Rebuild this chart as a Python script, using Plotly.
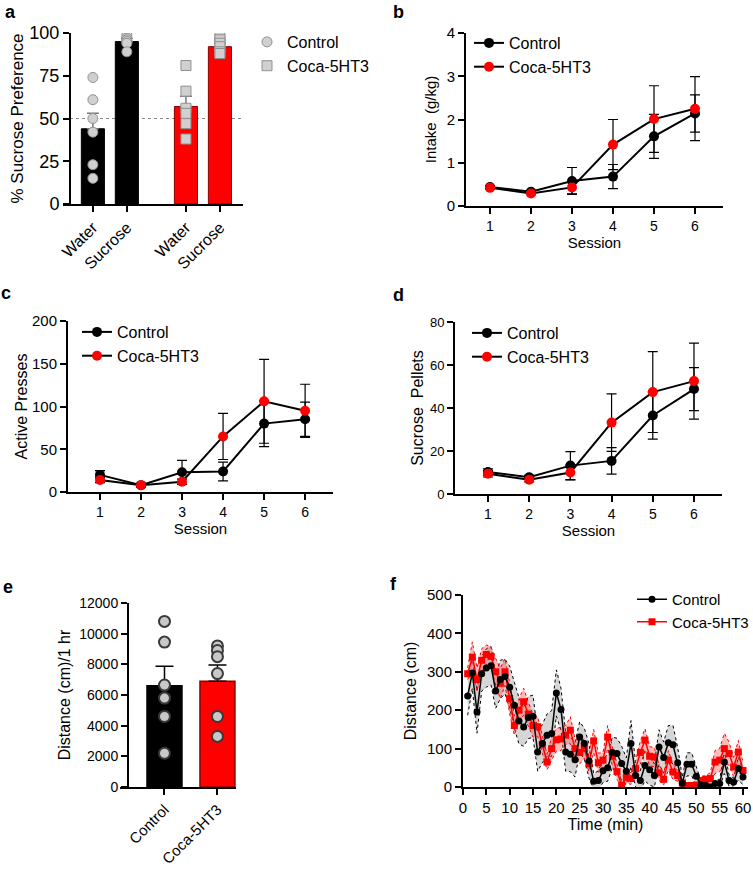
import plotly.graph_objects as go

W, H = 753, 869
FONT = "Arial, Liberation Sans, sans-serif"


def fx(p):
    return p / W


def fy(p):
    return 1 - p / H


# ---------------- data ----------------
# panel a : sucrose preference
pref_labels = ["Water", "Sucrose", "Water", "Sucrose"]
pref_ctrl_mean = [44, 95]
pref_ctrl_sem = [9, 2]
pref_coca_mean = [57, 92]
pref_coca_sem = [6, 2]
pref_ctrl_water_pts = [74, 61, 50, 42, 23, 15]
pref_ctrl_sucrose_pts = [99, 97, 96, 95, 94, 89]
pref_coca_water_pts = [81, 66, 56, 53, 47, 38]
pref_coca_sucrose_pts = [98, 96, 94, 92, 89, 88]

# panels b-d : sessions
sessions = [1, 2, 3, 4, 5, 6]
intake_ctrl = [0.44, 0.33, 0.58, 0.68, 1.61, 2.14]
intake_ctrl_sem = [0.03, 0.03, 0.31, 0.28, 0.51, 0.43]
intake_coca = [0.42, 0.29, 0.43, 1.42, 2.01, 2.25]
intake_coca_sem = [0.03, 0.03, 0.15, 0.58, 0.77, 0.74]

presses_ctrl = [20, 8, 23, 24, 80, 85]
presses_ctrl_sem = [5, 2, 14, 11, 27, 20]
presses_coca = [14, 8, 12, 65, 106, 95]
presses_coca_sem = [3, 2, 3, 27, 49, 31]

pellets_ctrl = [10.2, 7.8, 13.2, 15.4, 36.5, 48.8]
pellets_ctrl_sem = [1.5, 1.0, 6.5, 6.2, 11.0, 10.0]
pellets_coca = [9.4, 6.6, 10.0, 33.2, 47.4, 52.5]
pellets_coca_sem = [1.5, 1.0, 3.4, 13.4, 18.8, 17.7]

# panel e : locomotion
loco_groups = ["Control", "Coca-5HT3"]
loco_mean = [6600, 6900]
loco_sem = [1270, 1050]
loco_ctrl_pts = [10800, 9450, 6650, 5800, 4600, 2200]
loco_coca_pts = [9200, 8900, 8500, 7400, 4600, 3300]

# panel f : time course
minutes = list(range(1, 61))
dist_ctrl = [237, 297, 195, 295, 310, 316, 250, 280, 288, 260,
             213, 172, 156, 181, 184, 91, 113, 135, 139, 245,
             202, 91, 85, 71, 130, 113, 68, 15, 17, 42,
             50, 90, 87, 61, 41, 113, 30, 17, 56, 45,
             30, 104, 77, 115, 110, 63, 10, 59, 59, 28,
             6, 4, 0, 9, 9, 65, 17, 13, 48, 26]
dist_ctrl_sem = [50, 40, 55, 45, 50, 50, 45, 50, 45, 55,
                 60, 60, 50, 55, 55, 50, 50, 55, 60, 60,
                 55, 50, 45, 45, 40, 40, 45, 20, 25, 30,
                 35, 40, 40, 45, 35, 60, 30, 25, 40, 40,
                 30, 45, 40, 45, 50, 40, 15, 30, 30, 25,
                 10, 8, 5, 10, 10, 30, 15, 10, 30, 20]
dist_coca = [295, 338, 280, 330, 345, 340, 300, 270, 300, 230,
             160, 200, 222, 190, 160, 157, 110, 65, 100, 123,
             125, 135, 148, 100, 90, 100, 60, 120, 63, 70,
             130, 80, 40, 5, 25, 22, 48, 90, 122, 80,
             78, 37, 20, 70, 39, 30, 10, 4, 4, 5,
             17, 20, 22, 65, 70, 100, 87, 52, 91, 43]
dist_coca_sem = [15, 40, 30, 30, 25, 25, 35, 40, 35, 40,
                 25, 30, 35, 30, 30, 25, 25, 20, 30, 30,
                 30, 25, 35, 25, 30, 25, 20, 30, 25, 20,
                 30, 25, 20, 5, 15, 15, 20, 30, 30, 25,
                 25, 20, 15, 25, 20, 15, 5, 5, 5, 5,
                 10, 10, 15, 30, 30, 40, 30, 25, 30, 20]

# ---------------- figure ----------------
fig = go.Figure()

RED = "#ff0000"
GREYPT = "#d0d0d0"

# ---- panel a ----
pos_a = [0, 1, 2.74, 3.74]
fig.add_bar(x=pos_a[:2], y=pref_ctrl_mean, width=0.68,
            marker=dict(color="black", line=dict(color="black", width=1)),
            error_y=dict(type="data", symmetric=False, array=pref_ctrl_sem,
                         arrayminus=[0, 0], color="#777", thickness=1.5, width=6),
            xaxis="x", yaxis="y", showlegend=False)
fig.add_bar(x=pos_a[2:], y=pref_coca_mean, width=0.68,
            marker=dict(color=RED, line=dict(color="#8b0000", width=1)),
            error_y=dict(type="data", symmetric=False, array=pref_coca_sem,
                         arrayminus=[0, 0], color="#777", thickness=1.5, width=6),
            xaxis="x", yaxis="y", showlegend=False)
fig.add_scatter(x=[pos_a[0]] * len(pref_ctrl_water_pts) + [pos_a[1]] * len(pref_ctrl_sucrose_pts),
                y=pref_ctrl_water_pts + pref_ctrl_sucrose_pts, mode="markers",
                marker=dict(symbol="circle", size=10, color=GREYPT, line=dict(color="#909090", width=1)),
                name="Control", xaxis="x", yaxis="y", legend="legend")
fig.add_scatter(x=[pos_a[2]] * len(pref_coca_water_pts) + [pos_a[3]] * len(pref_coca_sucrose_pts),
                y=pref_coca_water_pts + pref_coca_sucrose_pts, mode="markers",
                marker=dict(symbol="square", size=10, color=GREYPT, line=dict(color="#909090", width=1)),
                name="Coca-5HT3", xaxis="x", yaxis="y", legend="legend")


def session_pair(xa, ya, leg, yc, yc_err, yk, yk_err, msize=10):
    fig.add_scatter(x=sessions, y=yc, mode="lines+markers", name="Control",
                    line=dict(color="black", width=2),
                    marker=dict(color="black", size=msize),
                    error_y=dict(type="data", array=yc_err, color="black", thickness=1.2, width=5),
                    xaxis=xa, yaxis=ya, legend=leg)
    fig.add_scatter(x=sessions, y=yk, mode="lines+markers", name="Coca-5HT3",
                    line=dict(color="black", width=2),
                    marker=dict(color=RED, size=msize),
                    error_y=dict(type="data", array=yk_err, color="black", thickness=1.2, width=5),
                    xaxis=xa, yaxis=ya, legend=leg)


session_pair("x2", "y2", "legend2", intake_ctrl, intake_ctrl_sem, intake_coca, intake_coca_sem)
session_pair("x3", "y3", "legend3", presses_ctrl, presses_ctrl_sem, presses_coca, presses_coca_sem)
session_pair("x4", "y4", "legend4", pellets_ctrl, pellets_ctrl_sem, pellets_coca, pellets_coca_sem)

# ---- panel e ----
fig.add_bar(x=[0, 1], y=loco_mean, width=0.66,
            marker=dict(color=["black", RED], line=dict(color=["black", "#8b0000"], width=1.5)),
            error_y=dict(type="data", symmetric=False, array=loco_sem, arrayminus=[0, 0],
                         color="black", thickness=1.5, width=9),
            xaxis="x5", yaxis="y5", showlegend=False)
fig.add_scatter(x=[0] * len(loco_ctrl_pts) + [1] * len(loco_coca_pts),
                y=loco_ctrl_pts + loco_coca_pts, mode="markers",
                marker=dict(size=11, color="#c8c8c8", line=dict(color="#3a3a3a", width=2)),
                xaxis="x5", yaxis="y5", showlegend=False)

# ---- panel f ----
ctrl_hi = [m + s for m, s in zip(dist_ctrl, dist_ctrl_sem)]
ctrl_lo = [m - s for m, s in zip(dist_ctrl, dist_ctrl_sem)]
coca_hi = [m + s for m, s in zip(dist_coca, dist_coca_sem)]
coca_lo = [max(m - s, 0) for m, s in zip(dist_coca, dist_coca_sem)]

fig.add_scatter(x=minutes, y=ctrl_lo, mode="lines", line=dict(color="black", width=1, dash="dot"),
                xaxis="x6", yaxis="y6", showlegend=False, hoverinfo="skip")
fig.add_scatter(x=minutes, y=ctrl_hi, mode="lines", line=dict(color="black", width=1, dash="dot"),
                fill="tonexty", fillcolor="rgba(200,200,200,0.75)",
                xaxis="x6", yaxis="y6", showlegend=False, hoverinfo="skip")
fig.add_scatter(x=minutes, y=coca_lo, mode="lines", line=dict(color=RED, width=1, dash="dot"),
                xaxis="x6", yaxis="y6", showlegend=False, hoverinfo="skip")
fig.add_scatter(x=minutes, y=coca_hi, mode="lines", line=dict(color=RED, width=1, dash="dot"),
                fill="tonexty", fillcolor="rgba(255,60,60,0.35)",
                xaxis="x6", yaxis="y6", showlegend=False, hoverinfo="skip")
fig.add_scatter(x=minutes, y=dist_coca, mode="lines+markers", name="Coca-5HT3",
                line=dict(color=RED, width=1.5), marker=dict(symbol="square", size=7, color=RED),
                xaxis="x6", yaxis="y6", legend="legend5")
fig.add_scatter(x=minutes, y=dist_ctrl, mode="lines+markers", name="Control",
                line=dict(color="black", width=1.5), marker=dict(symbol="circle", size=7, color="black"),
                xaxis="x6", yaxis="y6", legend="legend5")


def axis(dom, rng, tsize, **kw):
    d = dict(domain=dom, range=rng, showline=True, linecolor="black", linewidth=2,
             ticks="outside", ticklen=6, tickwidth=2, tickcolor="black",
             showgrid=False, zeroline=False, fixedrange=True, automargin=False,
             tickfont=dict(family=FONT, size=tsize, color="black"))
    d.update(kw)
    return d


TF = lambda s: dict(family=FONT, size=s, color="black")

layout = dict(
    width=W, height=H, margin=dict(l=0, r=0, t=0, b=0, autoexpand=False),
    paper_bgcolor="white", plot_bgcolor="white",
    font=dict(family=FONT, color="black"),
    barmode="overlay",
    # a
    xaxis=axis([fx(63), fx(243)], [-0.88, 4.42], 16, anchor="y",
               tickvals=pos_a, ticktext=pref_labels, tickangle=-45),
    yaxis=axis([fy(204), fy(33)], [0, 100], 18, anchor="free", position=fx(70),
               tickvals=[0, 25, 50, 75, 100],
               title=dict(text="% Sucrose Preference", font=TF(17), standoff=0)),
    # b
    xaxis2=axis([fx(466), fx(723)], [0.415, 6.683], 14, anchor="y2", tickvals=sessions,
                title=dict(text="Session", font=TF(15), standoff=2)),
    yaxis2=axis([fy(206), fy(33)], [0, 4], 15, anchor="x2", dtick=1,
                title=dict(text="Intake\u00a0 (g/kg)", font=TF(15), standoff=6)),
    # c
    xaxis3=axis([fx(68), fx(333)], [0.22, 6.68], 14, anchor="y3", tickvals=sessions,
                title=dict(text="Session", font=TF(15), standoff=2)),
    yaxis3=axis([fy(492), fy(321)], [0, 200], 15, anchor="x3", dtick=50,
                title=dict(text="Active Presses", font=TF(16), standoff=0)),
    # d
    xaxis4=axis([fx(455), fx(722)], [0.2, 6.68], 14, anchor="y4", tickvals=sessions,
                title=dict(text="Session", font=TF(15), standoff=2)),
    yaxis4=axis([fy(494), fy(322)], [0, 80], 13, anchor="x4", dtick=20,
                title=dict(text="Sucrose\u00a0 Pellets", font=TF(16), standoff=2)),
    # e
    xaxis5=axis([fx(120), fx(236)], [-0.84, 1.35], 15, anchor="y5",
                tickvals=[0, 1], ticktext=loco_groups, tickangle=-45),
    yaxis5=axis([fy(787), fy(603)], [0, 12000], 14, anchor="free", position=fx(128),
                dtick=2000, tickformat="d",
                title=dict(text="Distance (cm)/1 hr", font=TF(16), standoff=4)),
    # f
    xaxis6=axis([fx(463), fx(748)], [0, 61.07], 15, anchor="y6", dtick=5, tick0=0,
                title=dict(text="Time (min)", font=TF(16), standoff=4)),
    yaxis6=axis([fy(787), fy(595)], [0, 500], 15, anchor="x6", dtick=100,
                title=dict(text="Distance (cm)", font=TF(16), standoff=6)),
)

leg_common = dict(xanchor="left", yanchor="top", bgcolor="rgba(0,0,0,0)",
                  tracegroupgap=0)
LF = lambda s: dict(family=FONT, size=s, color="black")
layout["legend"] = dict(x=fx(247), y=fy(25), traceorder="normal", font=LF(16), **leg_common)
layout["legend2"] = dict(x=fx(469), y=fy(26), traceorder="normal", font=LF(16), **leg_common)
layout["legend3"] = dict(x=fx(77), y=fy(315), traceorder="normal", font=LF(16), **leg_common)
layout["legend4"] = dict(x=fx(467), y=fy(316), traceorder="normal", font=LF(16), **leg_common)
layout["legend5"] = dict(x=fx(632), y=fy(583), traceorder="reversed", font=LF(15), **leg_common)

fig.update_layout(**layout)

# dotted 50% line in panel a
fig.add_shape(type="line", xref="paper", yref="y", x0=fx(70), x1=fx(243), y0=50, y1=50,
              line=dict(color="#888", width=1, dash="dot"), layer="below")

# panel letters
for letter, px, py in [("a", 10, 0), ("b", 398, 0), ("c", 6, 281), ("d", 398, 283),
                       ("e", 8, 575), ("f", 393, 572)]:
    fig.add_annotation(text="<b>%s</b>" % letter, x=fx(px), y=fy(py), xref="paper", yref="paper",
                       showarrow=False, xanchor="center", yanchor="top",
                       font=dict(family=FONT, size=18, color="black"))

fig.write_html("out.html")
